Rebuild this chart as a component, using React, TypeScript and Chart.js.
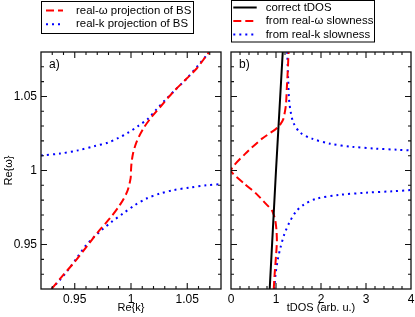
import { useEffect, useRef } from "react";
import { Chart, registerables } from "chart.js";

Chart.register(...registerables);

const FONT = "'Liberation Sans', Arial, Helvetica, sans-serif";

// ---------- Panel a ----------
const kMin = 0.92;
const kMax = 1.08;
const wMin = 0.92;
const wMax = 1.08;
const kTicks = [0.95, 1, 1.05];
const kTickLabels = ["0.95", "1", "1.05"];
const wTicks = [0.95, 1, 1.05];
const wTickLabels = ["0.95", "1", "1.05"];
const kMinorStep = 0.01;
const wMinorStep = 0.01;

const legendA = ["real-ω projection of BS", "real-k projection of BS"];

const redA_k = [0.9294, 0.9397, 0.95, 0.9604, 0.9708, 0.9811, 0.99, 0.9965, 0.9996, 1.0, 1.0004, 1.0018, 1.0049, 1.0108, 1.0183, 1.0271, 1.0374, 1.0493, 1.0582, 1.0671, 1.0695];
const redA_w = [0.92, 0.9294, 0.9384, 0.9485, 0.9586, 0.9676, 0.9766, 0.9855, 0.9945, 1.0, 1.0045, 1.0115, 1.0192, 1.0282, 1.0361, 1.0439, 1.0529, 1.0619, 1.0687, 1.0776, 1.08];

const blueUpA_k = [0.92, 0.9367, 0.953, 0.9678, 0.9796, 0.9885, 0.9974, 1.0063, 1.0152, 1.0227, 1.03, 1.0389, 1.0493, 1.0596, 1.0671, 1.0695];
const blueUpA_w = [1.0102, 1.0114, 1.0136, 1.0165, 1.0188, 1.0219, 1.0255, 1.03, 1.035, 1.0413, 1.0473, 1.0541, 1.0619, 1.0709, 1.0776, 1.08];

const blueLoA_k = [0.9293, 0.9367, 0.944, 0.9516, 0.959, 0.9663, 0.9738, 0.9827, 0.993, 1.0034, 1.0138, 1.0256, 1.0374, 1.0522, 1.0671, 1.08];
const blueLoA_w = [0.92, 0.926, 0.9328, 0.9407, 0.9485, 0.9545, 0.9597, 0.9653, 0.971, 0.9766, 0.9811, 0.9844, 0.9867, 0.9885, 0.99, 0.9908];

// ---------- Panel b ----------
const tMin = 0;
const tMax = 4;
const tTicks = [0, 1, 2, 3, 4];
const tTickLabels = ["0", "1", "2", "3", "4"];
const tMinorStep = 0.2;

const legendB = ["correct tDOS", "from real-ω slowness", "from real-k slowness"];

const blackB_t = [0.86, 1.0, 1.15];
const blackB_w = [0.92, 1.0, 1.08];

const redB_t = [0.95, 0.97, 1.0, 1.02, 1.01, 0.98, 0.91, 0.76, 0.56, 0.3, 0.0, 0.32, 0.69, 1.05, 1.16, 1.22, 1.24, 1.26, 1.28];
const redB_w = [0.92, 0.93, 0.942, 0.952, 0.96, 0.967, 0.973, 0.978, 0.9844, 0.991, 1.0, 1.0114, 1.0215, 1.0293, 1.0345, 1.044, 1.0552, 1.0664, 1.08];

const blueUpB_t = [1.25, 1.27, 1.29, 1.33, 1.39, 1.54, 1.8, 2.2, 2.7, 3.2, 3.7, 4.0];
const blueUpB_w = [1.08, 1.062, 1.048, 1.039, 1.032, 1.0255, 1.0215, 1.0181, 1.016, 1.0148, 1.014, 1.0135];

const blueLoB_t = [0.96, 0.99, 1.04, 1.1, 1.18, 1.3, 1.45, 1.62, 1.9, 2.4, 3.0, 3.6, 4.0];
const blueLoB_w = [0.92, 0.93, 0.94, 0.948, 0.9565, 0.965, 0.9725, 0.977, 0.981, 0.9835, 0.985, 0.986, 0.9868];

// ---------- helpers ----------
const pts = (xs: number[], ys: number[]) => xs.map((x, i) => ({ x, y: ys[i] }));

const RED = { borderColor: "#ff0000", borderWidth: 2, borderDash: [8, 4] };
const BLUE = { borderColor: "#0000ff", borderWidth: 2, borderDash: [2, 4] };
const BLACK = { borderColor: "#000000", borderWidth: 2, borderDash: [] as number[] };

type DecoCfg = {
  panelLabel: string;
  xMinor: number;
  yMinor: number;
  legend: {
    box: [number, number, number, number];
    rowsY: number[];
    sample: [number, number];
    textX: number;
    datasets: number[];
  };
};

function makeDeco(cfg: DecoCfg) {
  return {
    id: "deco",
    afterDraw(chart: any) {
      const { ctx, chartArea } = chart;
      const { left, right, top, bottom } = chartArea;
      const xs = chart.scales.x;
      const ys = chart.scales.y;
      ctx.save();
      // frame
      ctx.strokeStyle = "#111";
      ctx.lineWidth = 1.3;
      ctx.setLineDash([]);
      ctx.strokeRect(left, top, right - left, bottom - top);
      // ticks
      ctx.lineWidth = 1.1;
      const majX = xs.ticks.map((t: any) => t.value);
      const majY = ys.ticks.map((t: any) => t.value);
      const drawX = (v: number, len: number) => {
        const p = xs.getPixelForValue(v);
        ctx.beginPath();
        ctx.moveTo(p, bottom);
        ctx.lineTo(p, bottom - len);
        ctx.moveTo(p, top);
        ctx.lineTo(p, top + len);
        ctx.stroke();
      };
      const drawY = (v: number, len: number) => {
        const p = ys.getPixelForValue(v);
        ctx.beginPath();
        ctx.moveTo(left, p);
        ctx.lineTo(left + len, p);
        ctx.moveTo(right, p);
        ctx.lineTo(right - len, p);
        ctx.stroke();
      };
      const nx = Math.round((xs.max - xs.min) / cfg.xMinor);
      for (let i = 1; i < nx; i++) {
        const v = xs.min + i * cfg.xMinor;
        const isMaj = majX.some((m: number) => Math.abs(m - v) < cfg.xMinor / 10);
        drawX(v, isMaj ? 6 : 3);
      }
      const ny = Math.round((ys.max - ys.min) / cfg.yMinor);
      for (let i = 1; i < ny; i++) {
        const v = ys.min + i * cfg.yMinor;
        const isMaj = majY.some((m: number) => Math.abs(m - v) < cfg.yMinor / 10);
        drawY(v, isMaj ? 6 : 3);
      }
      // panel label
      ctx.fillStyle = "#000";
      ctx.font = `12px ${FONT}`;
      ctx.textBaseline = "middle";
      ctx.textAlign = "left";
      ctx.fillText(cfg.panelLabel, left + 8, top + 12.5);
      // legend
      const L = cfg.legend;
      ctx.font = `11.4px ${FONT}`;
      ctx.lineWidth = 1;
      ctx.strokeStyle = "#000";
      ctx.strokeRect(L.box[0] + 0.5, L.box[1] + 0.5, L.box[2], L.box[3]);
      L.datasets.forEach((di, i) => {
        const ds = chart.data.datasets[di];
        const y = L.rowsY[i];
        ctx.setLineDash(ds.borderDash || []);
        ctx.strokeStyle = ds.borderColor;
        ctx.lineWidth = ds.borderWidth;
        ctx.beginPath();
        ctx.moveTo(L.sample[0], y);
        ctx.lineTo(L.sample[1], y);
        ctx.stroke();
        ctx.setLineDash([]);
        ctx.fillStyle = "#000";
        ctx.fillText(ds.label, L.textX, y);
      });
      ctx.restore();
    },
  };
}

function makeOptions(opts: {
  xMin: number; xMax: number; yMin: number; yMax: number;
  xTicks: number[]; xLabels: string[]; yTicks: number[]; yLabels: string[];
  yWidth: number; padRight: number; showY: boolean; xTitle: string; yTitle: string;
}) {
  return {
    responsive: false,
    animation: false as const,
    devicePixelRatio: 1,
    events: [] as any[],
    layout: { padding: { left: 0, right: opts.padRight, top: 52, bottom: 0 } },
    plugins: { legend: { display: false }, tooltip: { enabled: false } },
    elements: { point: { radius: 0 }, line: { tension: 0.3, fill: false } },
    scales: {
      x: {
        type: "linear" as const,
        position: "bottom" as const,
        min: opts.xMin,
        max: opts.xMax,
        grid: { display: false, drawTicks: false },
        border: { display: false },
        afterBuildTicks: (s: any) => { s.ticks = opts.xTicks.map((v) => ({ value: v })); },
        afterFit: (s: any) => { s.height = 28; s.paddingLeft = 0; s.paddingRight = 0; },
        ticks: {
          padding: 3,
          color: "#000",
          font: { family: FONT, size: 12 },
          maxRotation: 0,
          autoSkip: false,
          callback: (_v: any, i: number) => opts.xLabels[i],
        },
        title: {
          display: true,
          text: opts.xTitle,
          color: "#000",
          font: { family: FONT, size: 11 },
          padding: { top: 0, bottom: 2 },
        },
      },
      y: {
        type: "linear" as const,
        position: "left" as const,
        min: opts.yMin,
        max: opts.yMax,
        grid: { display: false, drawTicks: false },
        border: { display: false },
        afterBuildTicks: (s: any) => { s.ticks = opts.yTicks.map((v) => ({ value: v })); },
        afterFit: (s: any) => { s.width = opts.yWidth; s.paddingTop = 0; s.paddingBottom = 0; },
        ticks: {
          display: opts.showY,
          padding: 4,
          color: "#000",
          font: { family: FONT, size: 12 },
          autoSkip: false,
          callback: (_v: any, i: number) => opts.yLabels[i],
        },
        title: {
          display: opts.yTitle !== "",
          text: opts.yTitle,
          color: "#000",
          font: { family: FONT, size: 11 },
          padding: { top: 2, bottom: 0 },
        },
      },
    },
  };
}

export default function App() {
  const refA = useRef<HTMLCanvasElement>(null);
  const refB = useRef<HTMLCanvasElement>(null);

  useEffect(() => {
    const chartA = new Chart(refA.current as HTMLCanvasElement, {
      type: "line",
      data: {
        datasets: [
          { label: legendA[0], data: pts(redA_k, redA_w), ...RED },
          { label: legendA[1], data: pts(blueUpA_k, blueUpA_w), ...BLUE },
          { label: legendA[1], data: pts(blueLoA_k, blueLoA_w), ...BLUE },
        ],
      },
      options: makeOptions({
        xMin: kMin, xMax: kMax, yMin: wMin, yMax: wMax,
        xTicks: kTicks, xLabels: kTickLabels, yTicks: wTicks, yLabels: wTickLabels,
        yWidth: 41, padRight: 5, showY: true, xTitle: "Re{k}", yTitle: "Re{ω}",
      }) as any,
      plugins: [
        makeDeco({
          panelLabel: "a)",
          xMinor: kMinorStep,
          yMinor: wMinorStep,
          legend: { box: [41, 1, 152, 32], rowsY: [10.5, 24.3], sample: [46, 63], textX: 76, datasets: [0, 1] },
        }),
      ],
    });

    const chartB = new Chart(refB.current as HTMLCanvasElement, {
      type: "line",
      data: {
        datasets: [
          { label: legendB[0], data: pts(blackB_t, blackB_w), ...BLACK, tension: 0 },
          { label: legendB[1], data: pts(redB_t, redB_w), ...RED, tension: 0.2 },
          { label: legendB[2], data: pts(blueUpB_t, blueUpB_w), ...BLUE },
          { label: legendB[2], data: pts(blueLoB_t, blueLoB_w), ...BLUE },
        ],
      },
      options: makeOptions({
        xMin: tMin, xMax: tMax, yMin: wMin, yMax: wMax,
        xTicks: tTicks, xLabels: tTickLabels, yTicks: wTicks, yLabels: wTickLabels,
        yWidth: 5, padRight: 4, showY: false, xTitle: "tDOS (arb. u.)", yTitle: "",
      }) as any,
      plugins: [
        makeDeco({
          panelLabel: "b)",
          xMinor: tMinorStep,
          yMinor: wMinorStep,
          legend: { box: [5, 0, 143, 41.5], rowsY: [7.5, 21, 34.5], sample: [7.3, 30.7], textX: 39.7, datasets: [0, 1, 2] },
        }),
      ],
    });

    return () => {
      chartA.destroy();
      chartB.destroy();
    };
  }, []);

  return (
    <div style={{ position: "absolute", left: 0, top: 0, width: 415, height: 317, background: "#fff" }}>
      <canvas ref={refA} width={226} height={317} style={{ position: "absolute", left: 0, top: 0, width: 226, height: 317 }} />
      <canvas ref={refB} width={189} height={317} style={{ position: "absolute", left: 226, top: 0, width: 189, height: 317 }} />
    </div>
  );
}
